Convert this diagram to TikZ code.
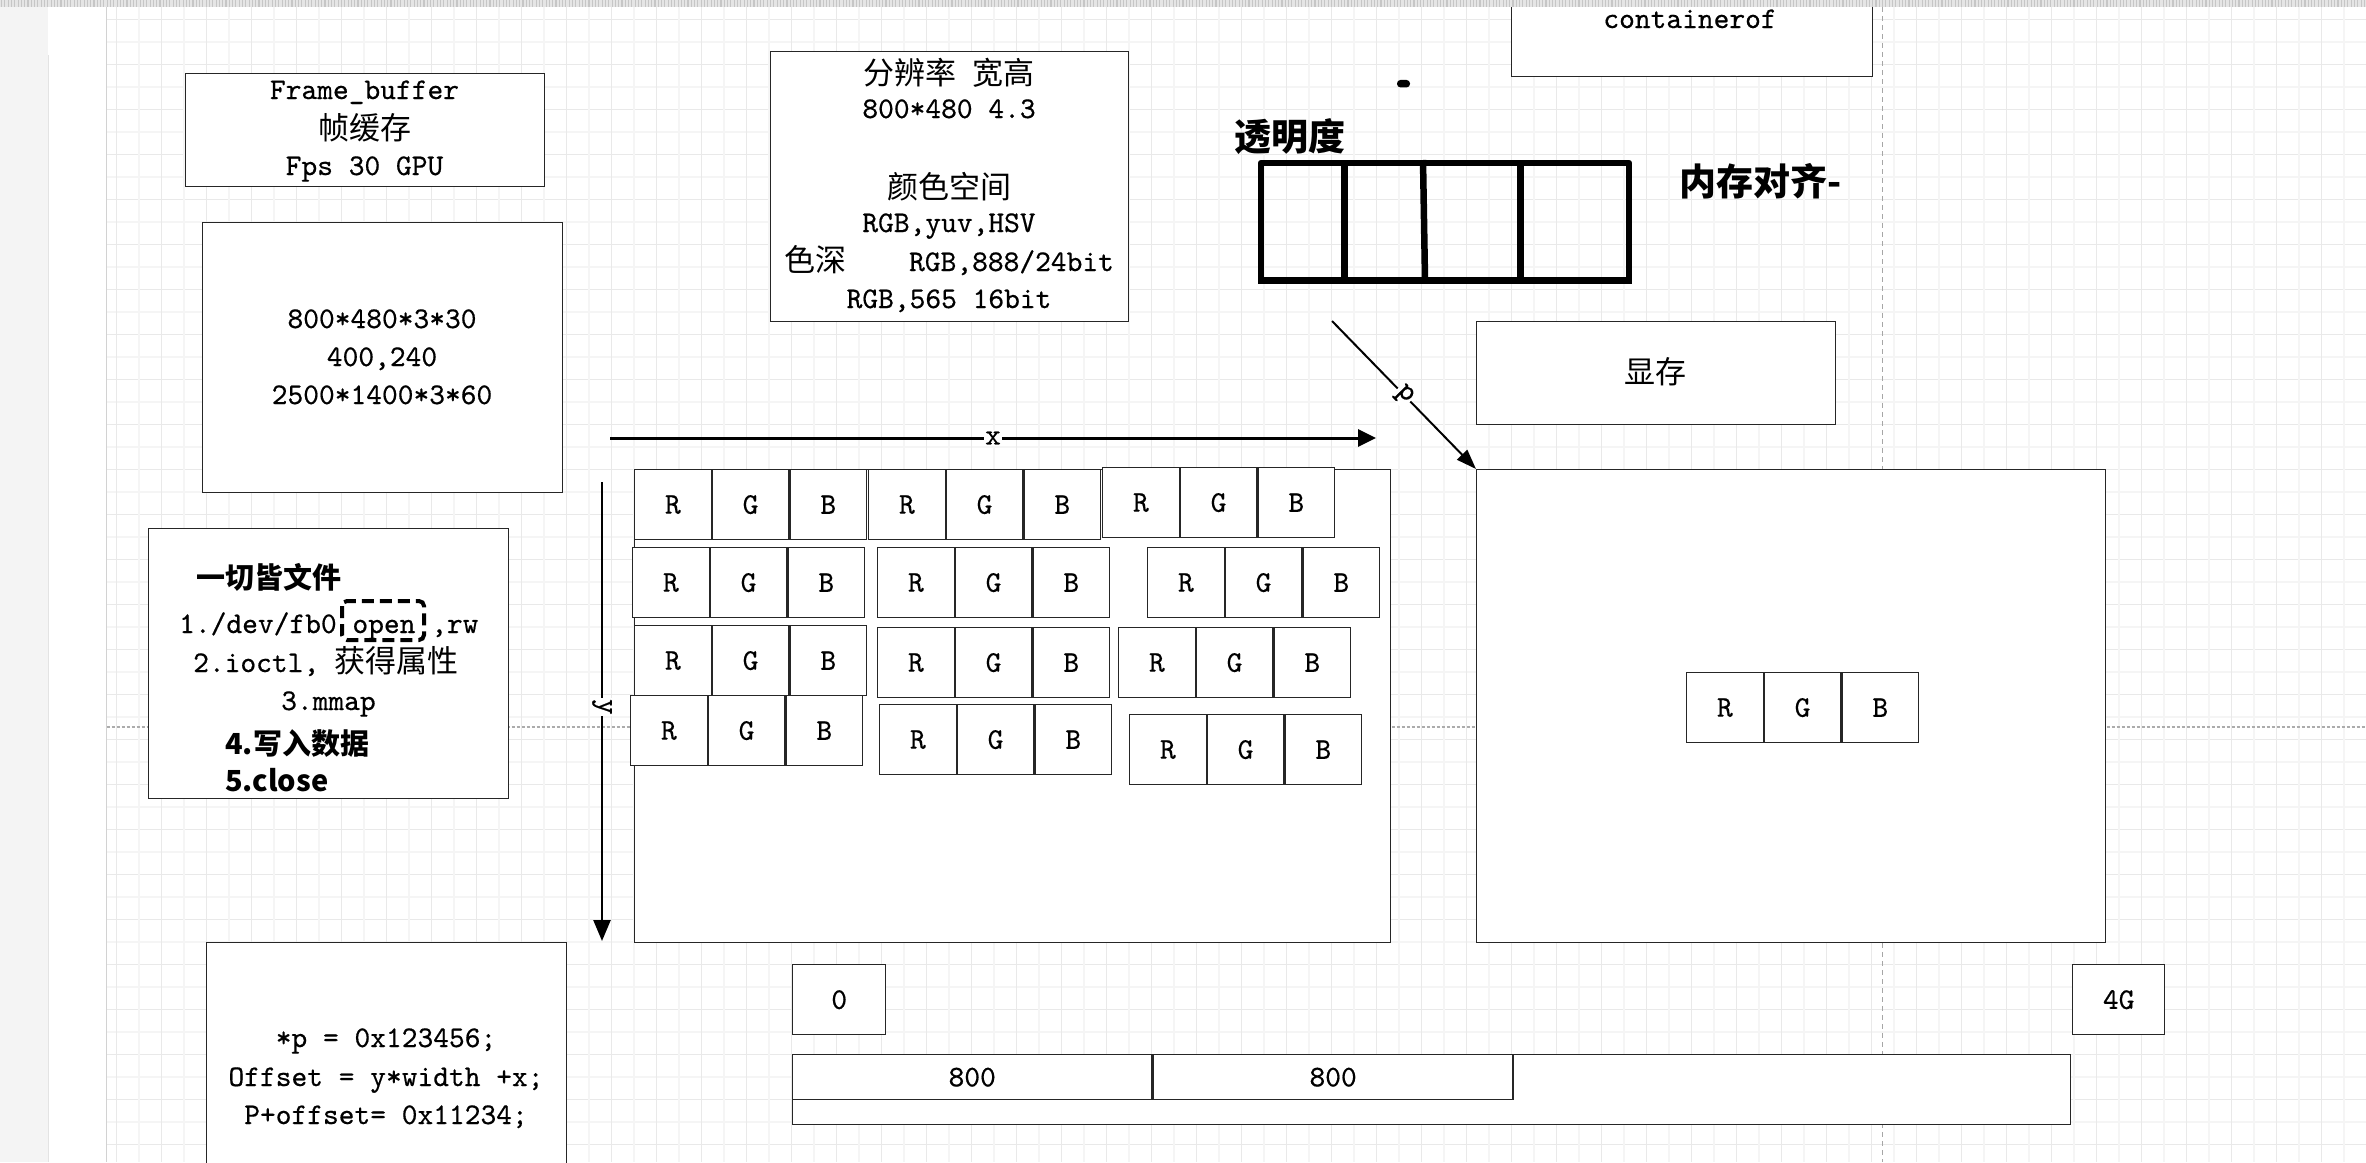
\documentclass[tikz,border=0pt]{standalone}
\usepackage{fontspec}
\usetikzlibrary{arrows.meta,calc}
\setmonofont{lmmono10-regular.otf}[FakeBold=0.5]
\newfontfamily\cjk{Noto Sans CJK SC}
\newcommand\zh[1]{{\cjk\fontsize{31}{36}\selectfont #1}}
\newcommand\rgbtrip[3]{%
  \node[cellbox] (#1r) at (#2,#3) {R};
  \node[cellbox] (#1g) at (#1r.north east) {G};
  \node[cellbox] (#1b) at (#1g.north east) {B};
}
\tikzset{
  frame/.style={draw=black!85, line width=1.4pt, fill=white, inner sep=0pt, anchor=north west},
  mono/.style={font=\ttfamily\fontsize{30}{36}\selectfont, inner sep=0pt},
  zht/.style={font=\cjk\fontsize{31}{36}\selectfont, inner sep=0pt},
  zhbold/.style={font=\cjk\bfseries\fontsize{37}{44}\selectfont, inner sep=0pt},
  zhbsmall/.style={font=\cjk\bfseries\fontsize{29}{34}\selectfont, inner sep=0pt},
  cellbox/.style={draw=black!85, line width=1.2pt, fill=white, minimum width=76.5pt, minimum height=70pt, inner sep=0pt, anchor=north west, font=\ttfamily\fontsize{30}{36}\selectfont},
  lbl/.style={fill=white, inner sep=1.5pt, font=\ttfamily\fontsize{30}{36}\selectfont},
  gridthin/.style={draw=gray!17, line width=1pt},
  gridthick/.style={draw=gray!8, line width=2pt},
  pagebreak/.style={draw=gray!70, line width=1pt, dash pattern=on 5pt off 4pt},
  pagebreakh/.style={draw=gray!65, line width=1.5pt, dash pattern=on 3pt off 2pt},
}
\begin{document}
\begin{tikzpicture}[x=1pt,y=-1pt]
\path[use as bounding box] (0,0) rectangle (2366,1162);
\clip (0,0) rectangle (2366,1162);
\fill[white] (0,0) rectangle (2366,1162);
% left strip
\fill[gray!9] (0,0) rectangle (48,1162);
\draw[gray!22, line width=1.2pt] (48.5,55) -- (48.5,1162);
% grid
\foreach \k in {0,...,51}{
  \pgfmathsetmacro\yy{19.3+22.5*\k}
  \ifodd\k \draw[gridthick] (106.7,\yy) -- (2366,\yy); \else \draw[gridthin] (106.7,\yy) -- (2366,\yy); \fi
}
\foreach \j in {0,...,100}{
  \pgfmathsetmacro\xx{116.7+22.5*\j}
  \ifodd\j \draw[gridthick] (\xx,7) -- (\xx,1162); \else \draw[gridthin] (\xx,7) -- (\xx,1162); \fi
}
\draw[gray!35, line width=1pt] (106.7,7) -- (106.7,1162);
% page breaks
\draw[pagebreak] (1882,7) -- (1882,1162);
\draw[pagebreakh] (106.7,727) -- (2366,727);

% Frame buffer box
\node[frame, minimum width=359pt, minimum height=113pt] (fb) at (185,73) {};
\node[mono, anchor=base] (fb1) at (364.5,99) {Frame\_buffer};
\node[zht, anchor=base] (fb2) at (364.5,139) {帧缓存};
\node[mono, anchor=base] (fb3) at (364.5,175) {Fps 30 GPU};

% resolution numbers box
\node[frame, minimum width=360pt, minimum height=270pt] (calc) at (202,222) {};
\node[mono, anchor=base] (c1) at (382,328) {800*480*3*30};
\node[mono, anchor=base] (c2) at (382,366) {400,240};
\node[mono, anchor=base] (c3) at (382,404) {2500*1400*3*60};

% resolution / colour box
\node[frame, minimum width=358pt, minimum height=270pt] (res) at (770,51) {};
\node[zht, anchor=base] (r1) at (949,84) {分辨率\hspace{16pt}宽高};
\node[mono, anchor=base] (r2) at (949,118) {800*480 4.3};
\node[zht, anchor=base] (r3) at (949,198) {颜色空间};
\node[mono, anchor=base] (r4) at (949,232) {RGB,yuv,HSV};
\node[mono, anchor=base] (r5) at (949,271) {\zh{色深}\hspace{63pt}RGB,888/24bit};
\node[mono, anchor=base] (r6) at (949,308) {RGB,565 16bit};

% containerof
\node[frame, minimum width=361pt, minimum height=96pt] (cont) at (1511,-20) {};
\node[mono, anchor=base] (cont1) at (1690,28) {containerof};

% dot
\node[fill=black, minimum width=13pt, minimum height=7.5pt, rounded corners=3.5pt, inner sep=0pt] (dot) at (1403.5,83.7) {};

% transparency label and thick cells
\node[zhbold, anchor=base west] (alpha) at (1234,150) {透明度};
\draw[line width=6.5pt, line join=round] (1261,163) rectangle (1629,280);
\draw[line width=6.5pt] (1344.5,161) -- (1344.5,280);
\draw[line width=6.5pt] (1423,160) -- (1425,280);
\draw[line width=6.5pt] (1520.5,163) -- (1520.5,280);
\draw[line width=4pt] (1258,282) -- (1632,282);
\node[zhbold, anchor=base west] (align) at (1679,195) {内存对齐-};

% video memory
\node[frame, minimum width=359pt, minimum height=103pt] (vram) at (1476,321) {};
\node[zht, anchor=base] (vram1) at (1655,383) {显存};

% everything is a file
\node[frame, minimum width=360pt, minimum height=270pt] (file) at (148,528) {};
\node[zhbsmall, anchor=base west] (f0) at (196,588) {一切皆文件};
\node[mono, anchor=base west] (f1) at (179,633) {1./dev/fb0 open ,rw};
\node[mono, anchor=base west] (f2) at (193,672) {2.ioctl, \zh{获得属性}};
\node[mono, anchor=base west] (f3) at (281,710) {3.mmap};
\node[zhbsmall, anchor=base west] (f4) at (225,754) {4.写入数据};
\node[zhbsmall, anchor=base west] (f5) at (225,791) {5.close};
\draw[line width=4pt, dash pattern=on 12pt off 6pt, rounded corners=5pt] (342,601) rectangle (424,640);

% pointer box
\node[frame, minimum width=360pt, minimum height=240pt] (ptr) at (206,942) {};
\node[mono, anchor=base] (p1) at (386,1047) {*p = 0x123456;};
\node[mono, anchor=base] (p2) at (386,1086) {Offset = y*width +x;};
\node[mono, anchor=base] (p3) at (386,1124) {P+offset= 0x11234;};

% left screen frame with pixels
\node[frame, minimum width=756pt, minimum height=473pt] (lf) at (634,469) {};
\rgbtrip{ta}{634}{469}
\rgbtrip{tb}{868}{469}
\rgbtrip{tc}{1102}{467}
\rgbtrip{td}{632}{547}
\rgbtrip{te}{877}{547}
\rgbtrip{tf}{1147}{547}
\rgbtrip{tg}{634}{625}
\rgbtrip{th}{877}{627}
\rgbtrip{ti}{1118}{627}
\rgbtrip{tj}{630}{695}
\rgbtrip{tk}{879}{704}
\rgbtrip{tl}{1129}{714}

% right memory frame
\node[frame, minimum width=629pt, minimum height=473pt] (rf) at (1476,469) {};
\rgbtrip{tm}{1686}{672}

% axes arrows
\coordinate (xs) at (610,438);
\coordinate (xe) at (1376,438);
\draw[line width=3pt, -{Triangle[length=18pt,width=17pt]}] (xs) -- node[lbl] (xl) {x} (xe);
\coordinate (ys) at (602,482);
\coordinate (ye) at (602,941);
\draw[line width=2.5pt, -{Triangle[length=21pt,width=17pt]}] (ys) -- node[lbl, pos=0.49, rotate=-90] (yl) {y} (ye);
\coordinate (ps) at (1332,321);
\draw[line width=2pt, -{Triangle[length=20pt,width=14pt]}] (ps) -- node[lbl, sloped, inner sep=1pt] (pl) {p} (rf.north west);

% bottom memory bar
\node[frame, minimum width=93pt, minimum height=70pt, font=\ttfamily\fontsize{30}{36}\selectfont] (zero) at (792,964) {0};
\node[frame, minimum width=92pt, minimum height=70pt, font=\ttfamily\fontsize{30}{36}\selectfont] (fourg) at (2072,964) {4G};
\node[frame, minimum width=1278pt, minimum height=70pt] (bar) at (792,1054) {};
\node[frame, minimum width=359pt, minimum height=45pt, font=\ttfamily\fontsize{30}{36}\selectfont] (m1) at (792,1054) {800};
\node[frame, minimum width=360pt, minimum height=45pt, font=\ttfamily\fontsize{30}{36}\selectfont] (m2) at (m1.north east) {800};

% top bar
\fill[gray!20] (0,0) rectangle (2366,7.3);
\foreach \i in {0,...,716} \draw[gray!45, line width=1.1pt] ({\i*3.3+1.6},0) -- ++(0,7.3);
\end{tikzpicture}
\end{document}
